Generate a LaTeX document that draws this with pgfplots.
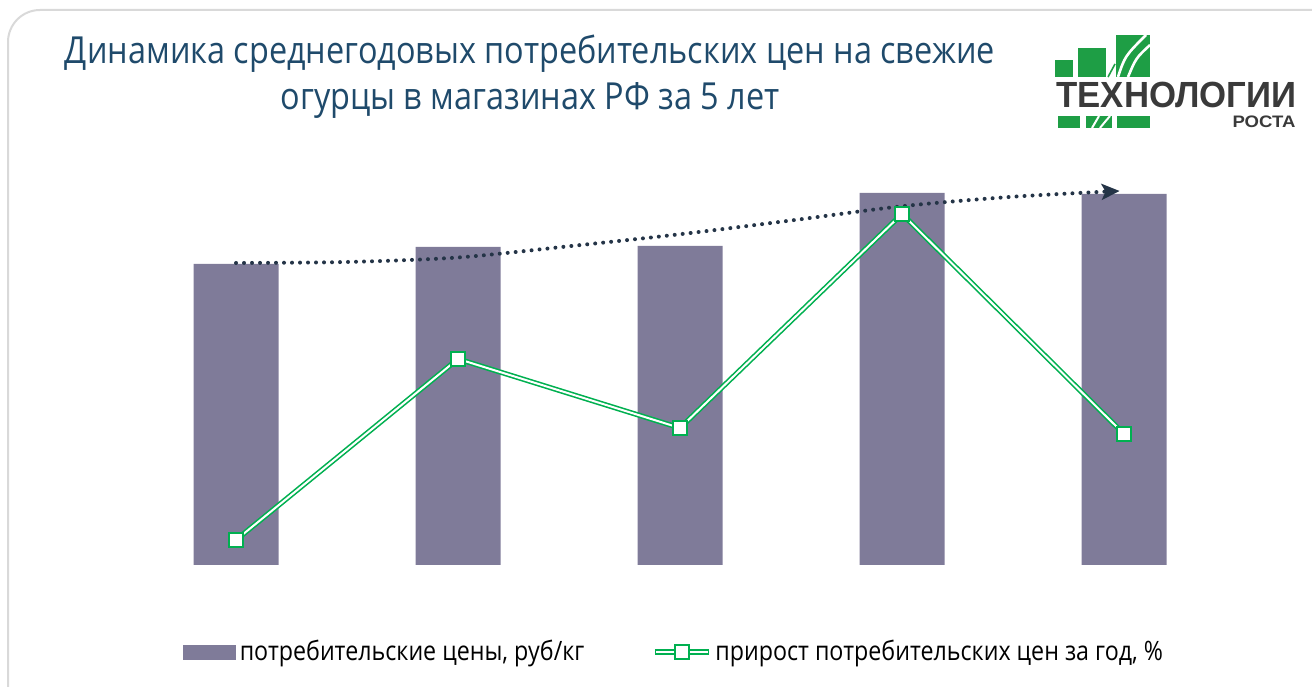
\documentclass[border=0pt]{standalone}
\usepackage{fontspec}
\setmainfont{Open Sans}[FakeStretch=0.87]
\newfontfamily\logofont{Liberation Sans}
\usepackage{graphicx}
\usepackage{pgfplots}
\usepackage{pgfplotstable}
\pgfplotsset{compat=1.18}
\usetikzlibrary{arrows.meta}

\definecolor{barc}{HTML}{7F7B99}
\definecolor{lgreen}{HTML}{00B050}
\definecolor{trendc}{HTML}{243447}
\definecolor{titlec}{HTML}{1F4A6B}
\definecolor{logog}{HTML}{1E9E45}
\definecolor{logot}{HTML}{3A3A3A}
\definecolor{framec}{HTML}{D9D9D9}

% average prices, rub/kg
\pgfplotstableread{
x price
0 120.4
1 127.2
2 127.6
3 148.8
4 148.4
}\pricetab
% year-on-year growth, %
\pgfplotstableread{
x growth
0 -8.37
1 5.66
2 0.31
3 16.9
4 -0.16
}\growthtab
% trend line
\pgfplotstableread{
x trend
0    120.8
0.5  121.2
1.0  123.0
1.5  127.5
2.0  132.3
2.5  137.8
3.0  143.5
3.5  147.3
3.98 149.6
}\trendtab

\begin{document}
\begin{tikzpicture}[x=0.5bp,y=0.5bp]
\useasboundingbox (0,0) rectangle (1312,686);
\begin{scope}
\clip (0,0) rectangle (1312,686);
\draw[framec, line width=1bp, rounded corners=16bp] (8,-40) rectangle (1360,676);
\end{scope}

% title
\node[titlec, font=\fontsize{18.7}{22}\selectfont, anchor=base] at (530,622)
  {Динамика среднегодовых потребительских цен на свежие};
\node[titlec, font=\fontsize{18.7}{22}\selectfont, anchor=base] at (530,576)
  {огурцы в магазинах РФ за 5 лет};

% logo
\fill[logog] (1055,609) rectangle (1073,626);
\fill[logog] (1078,609) rectangle (1106,638);
\fill[logog] (1116,609) rectangle (1150,651);
\draw[white, line width=1.3bp] (1118,609) .. controls (1125,630) .. (1146,651);
\draw[white, line width=1.3bp] (1128,609) .. controls (1136,628) .. (1150,641);
\draw[logog, line width=0.8bp] (1108,609) -- (1115,622);
\fill[logog] (1058,558) rectangle (1080,570);
\fill[logog] (1086,558) rectangle (1112,570);
\draw[white, line width=1bp] (1092,558) -- (1099,570);
\draw[white, line width=1bp] (1100,558) .. controls (1104,563) .. (1110,570);
\fill[logog] (1117,558) rectangle (1150,570);
\node[logot, anchor=south west, inner sep=0pt] at (1056,578)
  {\resizebox{120bp}{12.7bp}{\logofont\bfseries ТЕХНОЛОГИИ}};
\node[logot, anchor=south east, inner sep=0pt] at (1296,558)
  {\resizebox{31.5bp}{5.8bp}{\logofont\bfseries РОСТА}};

% bars and trend
\begin{axis}[
  at={(62.5bp,60.5bp)}, anchor=south west,
  scale only axis, width=555bp, height=192.5bp,
  xmin=-0.5, xmax=4.5, ymin=0, ymax=154,
  axis lines=none, clip=false,
  bar width=42.5bp
]
\addplot[ybar, fill=barc, draw=none] table[x=x, y=price] {\pricetab};
\addplot[trendc, line width=2bp, line cap=round, dash pattern=on 0pt off 4bp,
  smooth, -{Stealth[length=9bp, width=8bp, inset=2bp]}]
  table[x=x, y=trend] {\trendtab};
\end{axis}

% growth line and legend
\begin{axis}[
  at={(62.5bp,60.5bp)}, anchor=south west,
  scale only axis, width=555bp, height=192.5bp,
  xmin=-0.5, xmax=4.5, ymin=-10.31, ymax=19.53,
  axis lines=none, clip=false,
  legend columns=2,
  legend style={draw=none, fill=none, at={(0.4955,-0.226)}, anchor=center,
    font=\fontsize{13.4}{15}\selectfont,
    /tikz/every even column/.append style={column sep=32bp}},
  legend cell align=left
]
\addplot[lgreen, line width=2.6bp, forget plot] table[x=x, y=growth] {\growthtab};
\addplot[white, line width=1bp, forget plot] table[x=x, y=growth] {\growthtab};
\addplot[only marks, mark=square*, mark size=3.5bp,
  mark options={fill=white, draw=lgreen, line width=0.8bp}, forget plot]
  table[x=x, y=growth] {\growthtab};
\addlegendimage{legend image code/.code={
  \fill[barc] (0bp,-3.5bp) rectangle (26bp,3.5bp);}}
\addlegendentry{потребительские цены, руб/кг}
\addlegendimage{legend image code/.code={
  \draw[lgreen, line width=2.6bp] (0bp,0bp) -- (27bp,0bp);
  \draw[white, line width=1bp] (0.6bp,0bp) -- (26.4bp,0bp);
  \draw[lgreen, fill=white, line width=0.8bp] (10bp,-3.5bp) rectangle (17bp,3.5bp);}}
\addlegendentry{прирост потребительских цен за год, \%}
\end{axis}
\end{tikzpicture}
\end{document}
